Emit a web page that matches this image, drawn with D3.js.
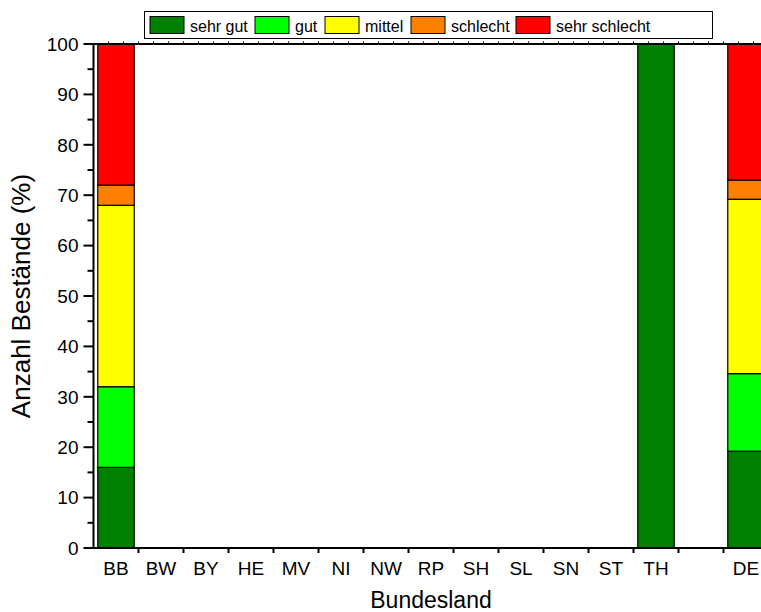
<!DOCTYPE html>
<html>
<head>
<meta charset="utf-8">
<script src="https://cdn.jsdelivr.net/npm/d3@7/dist/d3.min.js"></script>
<style>
  html, body { margin: 0; padding: 0; background: #fff; }
  svg { display: block; font-family: "Liberation Sans", Arial, sans-serif; }
</style>
</head>
<body>
<svg id="chart" width="761" height="612"></svg>
<script>
// Bundesländer on the x axis (empty slot separates the national total)
const categories = ["BB", "BW", "BY", "HE", "MV", "NI", "NW", "RP", "SH", "SL", "SN", "ST", "TH", "", "DE"];
const classes = ["sehr gut", "gut", "mittel", "schlecht", "sehr schlecht"];
const classColors = ["#007f00", "#00ff00", "#ffff00", "#ff8000", "#ff0000"];

// Share of stands per class (%), one array per class, aligned with categories
const sehrGut     = [16, 0, 0, 0, 0, 0, 0, 0, 0, 0, 0, 0, 100, 0, 19.2];
const gut         = [16, 0, 0, 0, 0, 0, 0, 0, 0, 0, 0, 0, 0,   0, 15.4];
const mittel      = [36, 0, 0, 0, 0, 0, 0, 0, 0, 0, 0, 0, 0,   0, 34.6];
const schlecht    = [4,  0, 0, 0, 0, 0, 0, 0, 0, 0, 0, 0, 0,   0, 3.8];
const sehrSchlecht= [28, 0, 0, 0, 0, 0, 0, 0, 0, 0, 0, 0, 0,   0, 27.0];

const yTicks = [0, 10, 20, 30, 40, 50, 60, 70, 80, 90, 100];

const series = [sehrGut, gut, mittel, schlecht, sehrSchlecht];
const rows = categories.map((c, i) => {
  const r = { cat: c, idx: i };
  classes.forEach((k, j) => r[k] = series[j][i]);
  return r;
});

const svg = d3.select("#chart");
const plotLeft = 93.5, plotTop = 44, plotBottom = 548;
const band = 45;

const x = d3.scaleBand()
  .domain(d3.range(categories.length))
  .range([plotLeft, plotLeft + band * categories.length])
  .paddingInner(0.19).paddingOuter(0.095);
const y = d3.scaleLinear().domain([0, 100]).range([plotBottom, plotTop]);

const stacked = d3.stack().keys(classes)(rows);

// bars
const g = svg.append("g");
stacked.forEach((layer, j) => {
  g.selectAll(null)
    .data(layer.filter(d => d[1] - d[0] > 0))
    .enter().append("rect")
    .attr("x", d => x(d.data.idx))
    .attr("width", x.bandwidth())
    .attr("y", d => y(d[1]))
    .attr("height", d => y(d[0]) - y(d[1]))
    .attr("fill", classColors[j])
    .attr("stroke", "#000")
    .attr("stroke-width", 1.2);
});

// y axis with major and minor ticks
const yAxis = svg.append("g").attr("transform", `translate(${plotLeft},0)`);
yAxis.append("line").attr("x1", 0).attr("x2", 0).attr("y1", plotTop).attr("y2", plotBottom)
  .attr("stroke", "#000").attr("stroke-width", 2);
yAxis.selectAll(".maj").data(yTicks).enter().append("line")
  .attr("x1", -10).attr("x2", 0).attr("y1", d => y(d)).attr("y2", d => y(d))
  .attr("stroke", "#000").attr("stroke-width", 2);
yAxis.selectAll(".min").data(d3.range(5, 100, 10)).enter().append("line")
  .attr("x1", -6).attr("x2", 0).attr("y1", d => y(d)).attr("y2", d => y(d))
  .attr("stroke", "#000").attr("stroke-width", 2);
yAxis.selectAll("text").data(yTicks).enter().append("text")
  .attr("x", -15).attr("y", d => y(d)).attr("dy", "0.36em")
  .attr("text-anchor", "end").attr("font-size", 19).text(d => d);

// x axis along the bottom, ticks at category boundaries
const xAxis = svg.append("g");
xAxis.append("line").attr("x1", plotLeft - 1).attr("x2", 761).attr("y1", plotBottom).attr("y2", plotBottom)
  .attr("stroke", "#000").attr("stroke-width", 2);
xAxis.selectAll(".tk").data(d3.range(1, categories.length)).enter().append("line")
  .attr("x1", i => plotLeft + band * i).attr("x2", i => plotLeft + band * i)
  .attr("y1", plotBottom).attr("y2", plotBottom + 5)
  .attr("stroke", "#000").attr("stroke-width", 2);
xAxis.selectAll("text").data(rows).enter().append("text")
  .attr("x", d => x(d.idx) + x.bandwidth() / 2).attr("y", plotBottom + 27)
  .attr("text-anchor", "middle").attr("font-size", 19).text(d => d.cat);

// top frame line with small ticks
svg.append("line").attr("x1", plotLeft - 1).attr("x2", 761).attr("y1", plotTop).attr("y2", plotTop)
  .attr("stroke", "#000").attr("stroke-width", 2);
svg.selectAll(".tt").data(d3.range(1, categories.length * 3)).enter().append("line")
  .attr("x1", i => plotLeft + 15 * i).attr("x2", i => plotLeft + 15 * i)
  .attr("y1", plotTop).attr("y2", plotTop - 2.5)
  .attr("stroke", "#000").attr("stroke-width", 1);

// axis titles
svg.append("text").attr("x", 431).attr("y", 608)
  .attr("text-anchor", "middle").attr("font-size", 23).text("Bundesland");
svg.append("text").attr("transform", `translate(30,${(plotTop + plotBottom) / 2}) rotate(-90)`)
  .attr("text-anchor", "middle").attr("font-size", 26).text("Anzahl Bestände (%)");

// legend
const legend = svg.append("g");
legend.append("rect").attr("x", 144.5).attr("y", 11.5).attr("width", 568).attr("height", 27)
  .attr("fill", "#fff").attr("stroke", "#000").attr("stroke-width", 1);
const legendX = [150, 255, 325, 411, 516];
classes.forEach((k, j) => {
  legend.append("rect").attr("x", legendX[j]).attr("y", 16.5).attr("width", 34).attr("height", 17)
    .attr("fill", classColors[j]).attr("stroke", "#000").attr("stroke-width", 1);
  legend.append("text").attr("x", legendX[j] + 40).attr("y", 31.5)
    .attr("font-size", 16).text(k);
});
</script>
</body>
</html>
